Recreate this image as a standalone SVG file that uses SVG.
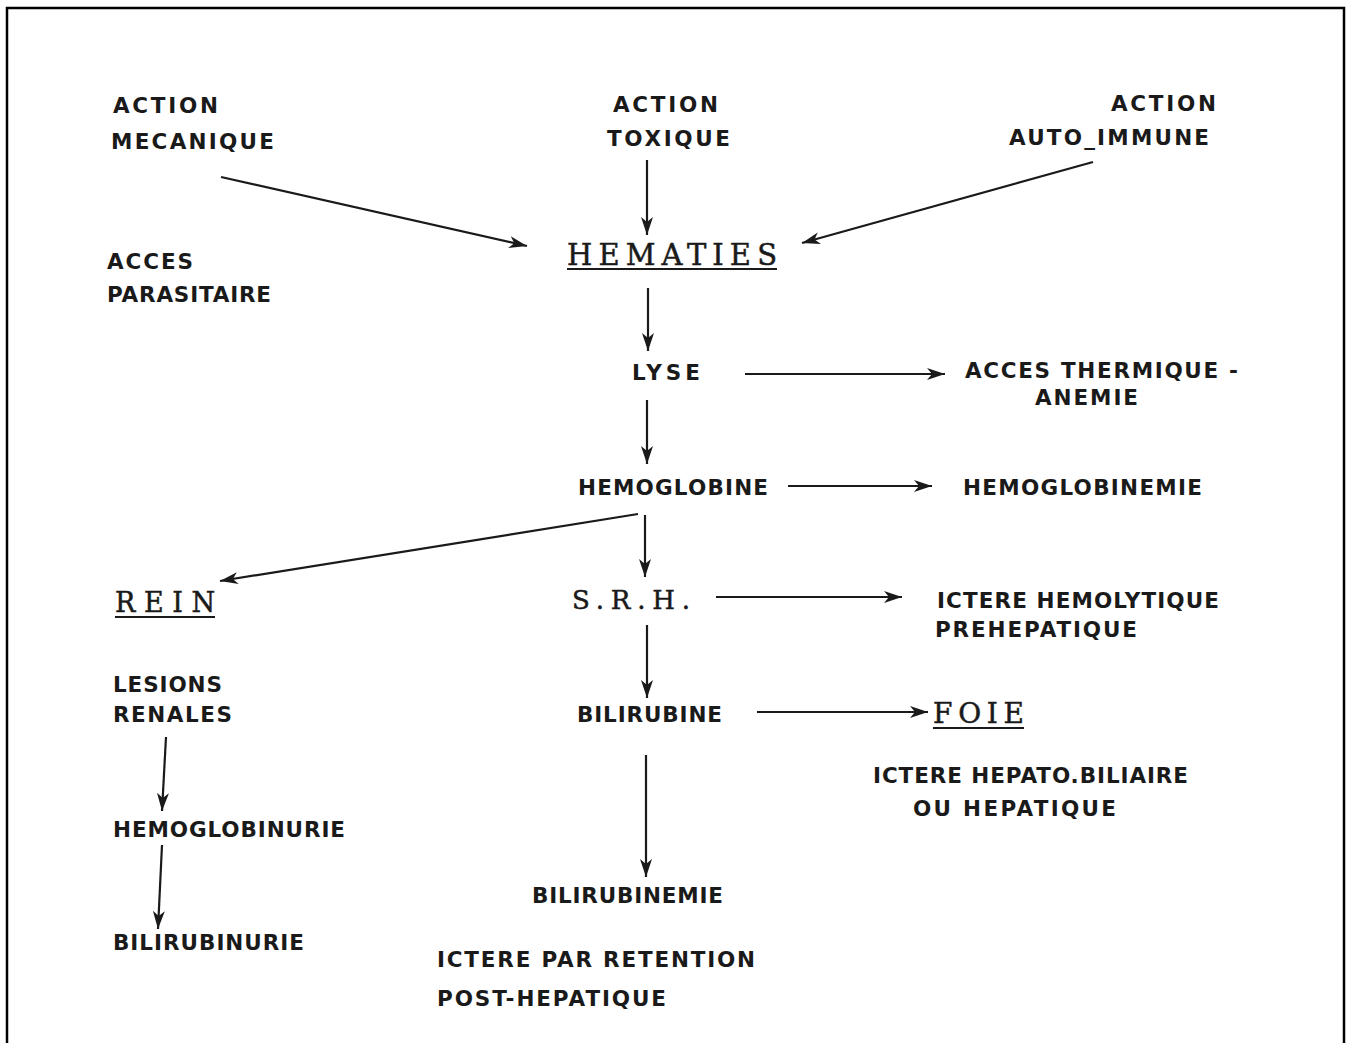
<svg xmlns="http://www.w3.org/2000/svg" width="1349" height="1043" viewBox="0 0 1349 1043">
<style>
.t{font-family:"DejaVu Sans","Liberation Sans",sans-serif;font-weight:bold;font-size:21.5px;fill:#1a1a1a}
.s{font-family:"DejaVu Serif","Liberation Serif",serif;fill:#1a1a1a;stroke:#1a1a1a;stroke-width:0.5}
.c{stroke:#1a1a1a;stroke-width:2.2;fill:none}
.u{stroke:#1a1a1a;stroke-width:2.2}
</style>
<defs>
<marker id="ah" markerUnits="userSpaceOnUse" markerWidth="20" markerHeight="14" refX="18" refY="7" orient="auto">
<path d="M0,1 L18,7 L0,13 L5,7 Z" fill="#1a1a1a"/>
</marker>
</defs>
<rect width="1349" height="1043" fill="#ffffff"/>
<path d="M7,1043 V8 H1344 V1043" fill="none" stroke="#000" stroke-width="2.5"/>

<g id="action-mecanique"><text class="t" x="113" y="113" textLength="105" lengthAdjust="spacing">ACTION</text><text class="t" x="111" y="149" textLength="163" lengthAdjust="spacing">MECANIQUE</text></g>
<g id="acces-parasitaire"><text class="t" x="107" y="269" textLength="86" lengthAdjust="spacing">ACCES</text><text class="t" x="107" y="302" textLength="164" lengthAdjust="spacing">PARASITAIRE</text></g>
<g id="action-toxique"><text class="t" x="613" y="112" textLength="105" lengthAdjust="spacing">ACTION</text><text class="t" x="607" y="146" textLength="123" lengthAdjust="spacing">TOXIQUE</text></g>
<g id="action-auto-immune"><text class="t" x="1111" y="111" textLength="105" lengthAdjust="spacing">ACTION</text><text class="t" x="1009" y="145" textLength="200" lengthAdjust="spacing">AUTO_IMMUNE</text></g>
<g id="hematies"><text class="s" x="567" y="265" font-size="29" textLength="210" lengthAdjust="spacing">HEMATIES</text><line class="u" x1="567" y1="269" x2="777" y2="269"/></g>
<g id="lyse"><text class="t" x="632" y="380" textLength="68" lengthAdjust="spacing">LYSE</text></g>
<g id="acces-thermique"><text class="t" x="965" y="378" textLength="273" lengthAdjust="spacing">ACCES THERMIQUE -</text><text class="t" x="1035" y="405" textLength="103" lengthAdjust="spacing">ANEMIE</text></g>
<g id="hemoglobine"><text class="t" x="578" y="495" textLength="190" lengthAdjust="spacing">HEMOGLOBINE</text></g>
<g id="hemoglobinemie"><text class="t" x="963" y="495" textLength="239" lengthAdjust="spacing">HEMOGLOBINEMIE</text></g>
<g id="rein"><text class="s" x="115" y="612" font-size="27" textLength="100" lengthAdjust="spacing">REIN</text><line class="u" x1="115" y1="617" x2="215" y2="617"/></g>
<g id="srh"><text class="s" x="572" y="609" font-size="26" textLength="118" lengthAdjust="spacing">S.R.H.</text></g>
<g id="ictere-hemolytique"><text class="t" x="937" y="608" textLength="282" lengthAdjust="spacing">ICTERE HEMOLYTIQUE</text><text class="t" x="935" y="637" textLength="202" lengthAdjust="spacing">PREHEPATIQUE</text></g>
<g id="lesions-renales"><text class="t" x="113" y="692" textLength="109" lengthAdjust="spacing">LESIONS</text><text class="t" x="113" y="722" textLength="119" lengthAdjust="spacing">RENALES</text></g>
<g id="bilirubine"><text class="t" x="577" y="722" textLength="145" lengthAdjust="spacing">BILIRUBINE</text></g>
<g id="foie"><text class="s" x="933" y="723" font-size="28" textLength="91" lengthAdjust="spacing">FOIE</text><line class="u" x1="933" y1="728" x2="1024" y2="728"/></g>
<g id="ictere-hepato"><text class="t" x="873" y="783" textLength="315" lengthAdjust="spacing">ICTERE HEPATO.BILIAIRE</text><text class="t" x="913" y="816" textLength="203" lengthAdjust="spacing">OU  HEPATIQUE</text></g>
<g id="hemoglobinurie"><text class="t" x="113" y="837" textLength="232" lengthAdjust="spacing">HEMOGLOBINURIE</text></g>
<g id="bilirubinurie"><text class="t" x="113" y="950" textLength="191" lengthAdjust="spacing">BILIRUBINURIE</text></g>
<g id="bilirubinemie"><text class="t" x="532" y="903" textLength="191" lengthAdjust="spacing">BILIRUBINEMIE</text></g>
<g id="ictere-retention"><text class="t" x="437" y="967" textLength="318" lengthAdjust="spacing">ICTERE PAR RETENTION</text><text class="t" x="437" y="1006" textLength="229" lengthAdjust="spacing">POST-HEPATIQUE</text></g>

<g id="connectors">
<line class="c" x1="221" y1="177" x2="527" y2="246" marker-end="url(#ah)"/>
<line class="c" x1="647" y1="160" x2="647" y2="235" marker-end="url(#ah)"/>
<line class="c" x1="1093" y1="162" x2="802" y2="243" marker-end="url(#ah)"/>
<line class="c" x1="648" y1="288" x2="648" y2="351" marker-end="url(#ah)"/>
<line class="c" x1="745" y1="374" x2="945" y2="374" marker-end="url(#ah)"/>
<line class="c" x1="647" y1="400" x2="647" y2="464" marker-end="url(#ah)"/>
<line class="c" x1="788" y1="486" x2="932" y2="486" marker-end="url(#ah)"/>
<line class="c" x1="638" y1="514" x2="220" y2="581" marker-end="url(#ah)"/>
<line class="c" x1="645" y1="515" x2="645" y2="577" marker-end="url(#ah)"/>
<line class="c" x1="716" y1="597" x2="902" y2="597" marker-end="url(#ah)"/>
<line class="c" x1="647" y1="625" x2="647" y2="698" marker-end="url(#ah)"/>
<line class="c" x1="757" y1="712" x2="928" y2="712" marker-end="url(#ah)"/>
<line class="c" x1="646" y1="755" x2="646" y2="877" marker-end="url(#ah)"/>
<line class="c" x1="166" y1="737" x2="162" y2="811" marker-end="url(#ah)"/>
<line class="c" x1="162" y1="845" x2="158" y2="929" marker-end="url(#ah)"/>
</g>
</svg>
